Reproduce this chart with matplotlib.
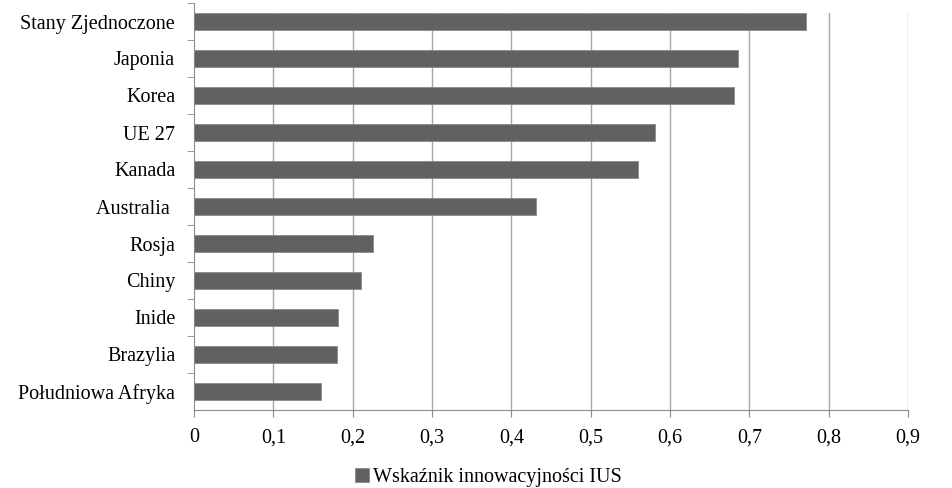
import matplotlib
matplotlib.use("Agg")
import matplotlib.pyplot as plt
import matplotlib.ticker as mticker

# dane: wskaźnik innowacyjności IUS
kraje = ["Stany Zjednoczone", "Japonia", "Korea", "UE 27", "Kanada", "Australia ",
         "Rosja", "Chiny", "Inide", "Brazylia", "Południowa Afryka"]
wartosci = [0.771, 0.686, 0.681, 0.581, 0.560, 0.431, 0.226, 0.210, 0.181, 0.180, 0.160]
xticks = [0, 0.1, 0.2, 0.3, 0.4, 0.5, 0.6, 0.7, 0.8, 0.9]
legenda = "Wskaźnik innowacyjności IUS"

plt.rcParams['font.family'] = ['Liberation Serif', 'DejaVu Serif']

fig = plt.figure(figsize=(9.52, 4.88), dpi=100)
ax = fig.add_axes([194 / 952, 78 / 488, 714 / 952, 407 / 488])

y = list(range(len(kraje)))[::-1]
ax.barh(y, wartosci, height=0.46, color='#616161', edgecolor='#8a8a8a',
        linewidth=0.6, label=legenda, zorder=3)

ax.set_xlim(0, 0.9)
ax.set_ylim(-0.5, len(kraje) - 0.5)

# siatka pionowa
for t in xticks[1:]:
    ax.axvline(t, ymin=0, ymax=0.975, color='#a6a6a6', linewidth=1.0, zorder=1)

ax.set_xticks(xticks)
ax.xaxis.set_major_formatter(mticker.FuncFormatter(
    lambda v, p: '0' if v == 0 else ('%.1f' % v).replace('.', ',')))
ax.set_yticks(y)
ax.set_yticklabels(kraje)
ax.set_yticks([i + 0.5 for i in range(len(kraje))], minor=True)

ax.tick_params(axis='y', which='major', length=0, pad=13.5, labelsize=14.5)
ax.tick_params(axis='y', which='minor', length=5, color='#8c8c8c', direction='out')
ax.tick_params(axis='x', length=5, color='#8c8c8c', direction='out', pad=8, labelsize=14.5)

for s in ['top', 'right']:
    ax.spines[s].set_visible(False)
ax.spines['left'].set_color('#8c8c8c')
ax.spines['bottom'].set_color('#8c8c8c')

fig.legend(loc='center', bbox_to_anchor=(0.513, 0.021), frameon=False, fontsize=14.5,
           handlelength=0.7, handleheight=0.7, handletextpad=0.2)

fig.savefig("out.png", dpi=100)
